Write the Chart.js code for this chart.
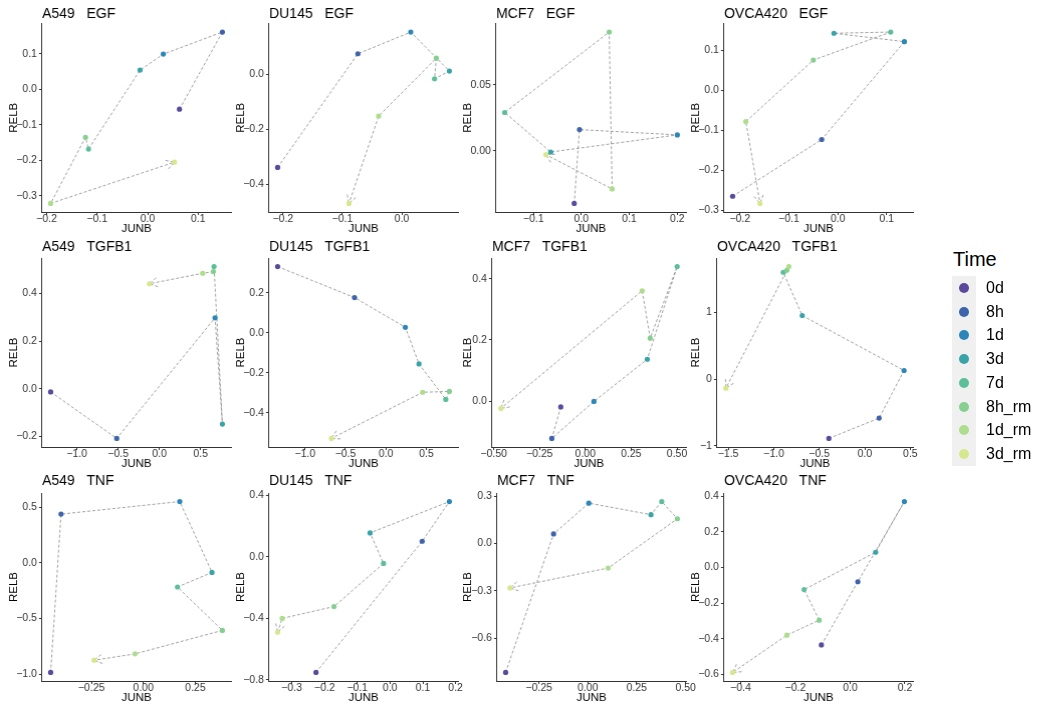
<!DOCTYPE html>
<html>
<head>
<meta charset="utf-8">
<script src="https://cdn.jsdelivr.net/npm/chart.js@4.4.1/dist/chart.umd.min.js"></script>
<style>
  body { margin: 0; background: #fff; width: 1038px; height: 706px; overflow: hidden; position: relative;
         font-family: "Liberation Sans", Arial, sans-serif; }
  .panel { position: absolute; }
  .leg { position: absolute; color: #000; white-space: nowrap; }
</style>
</head>
<body>
<script>
// time points and their colours
const times = ['0d', '8h', '1d', '3d', '7d', '8h_rm', '1d_rm', '3d_rm'];
const timeColors = ['#5b4a9c', '#3e63ab', '#2c86b8', '#3aa3a8', '#5dbf9a', '#87cf90', '#aedd8d', '#d6e88e'];

const cellLines = ['A549', 'DU145', 'MCF7', 'OVCA420'];
const treatments = ['EGF', 'TGFB1', 'TNF'];

// one row per panel (treatment-major, cell line across), values in time order
const junb = [
  [0.063, 0.148, 0.031, -0.015, -0.117, -0.123, -0.192, 0.053],
  [-0.209, -0.074, 0.015, 0.080, 0.055, 0.058, -0.039, -0.089],
  [-0.015, -0.004, 0.200, -0.064, -0.160, 0.058, 0.064, -0.074],
  [-0.215, -0.033, 0.136, -0.008, 0.108, -0.050, -0.188, -0.159],
  [-1.318, -0.517, 0.675, 0.764, 0.663, 0.655, 0.525, -0.121],
  [-1.339, -0.388, 0.240, 0.409, 0.740, 0.785, 0.455, -0.674],
  [-0.134, -0.183, 0.047, 0.338, 0.501, 0.354, 0.310, -0.461],
  [-0.395, 0.157, 0.431, -0.687, -0.896, -0.856, -0.834, -1.525],
  [-0.446, -0.396, 0.175, 0.330, 0.164, 0.380, -0.040, -0.237],
  [-0.226, 0.098, 0.181, -0.061, -0.020, -0.171, -0.329, -0.343],
  [-0.420, -0.175, 0.005, 0.323, 0.378, 0.458, 0.104, -0.398],
  [-0.105, 0.028, 0.198, 0.093, -0.168, -0.113, -0.231, -0.429]
];
const relb = [
  [-0.056, 0.161, 0.099, 0.054, -0.168, -0.135, -0.321, -0.205],
  [-0.339, 0.075, 0.154, 0.012, -0.016, 0.059, -0.152, -0.470],
  [-0.040, 0.016, 0.012, -0.001, 0.029, 0.090, -0.029, -0.003],
  [-0.265, -0.123, 0.122, 0.143, 0.146, 0.076, -0.078, -0.283],
  [-0.013, -0.208, 0.298, -0.148, 0.513, 0.492, 0.485, 0.441],
  [0.332, 0.177, 0.028, -0.155, -0.333, -0.293, -0.297, -0.528],
  [-0.019, -0.122, -0.001, 0.137, 0.440, 0.206, 0.361, -0.024],
  [-0.890, -0.585, 0.130, 0.955, 1.605, 1.635, 1.690, -0.135],
  [-0.985, 0.438, 0.551, -0.086, -0.217, -0.607, -0.818, -0.875],
  [-0.751, 0.101, 0.359, 0.155, -0.043, -0.323, -0.400, -0.490],
  [-0.816, 0.061, 0.256, 0.183, 0.266, 0.157, -0.155, -0.281],
  [-0.434, -0.080, 0.369, 0.085, -0.124, -0.295, -0.379, -0.588]
];

// tick labels per panel
const xTickLabels = [
  ['−0.2', '−0.1', '0.0', '0.1'],
  ['−0.2', '−0.1', '0.0'],
  ['−0.1', '0.0', '0.1', '0.2'],
  ['−0.2', '−0.1', '0.0', '0.1'],
  ['−1.0', '−0.5', '0.0', '0.5'],
  ['−1.0', '−0.5', '0.0', '0.5'],
  ['−0.50', '−0.25', '0.00', '0.25', '0.50'],
  ['−1.5', '−1.0', '−0.5', '0.0', '0.5'],
  ['−0.50', '−0.25', '0.00', '0.25'],
  ['−0.3', '−0.2', '−0.1', '0.0', '0.1', '0.2'],
  ['−0.25', '0.00', '0.25', '0.50'],
  ['−0.4', '−0.2', '0.0', '0.2']
];
const yTickLabels = [
  ['−0.3', '−0.2', '−0.1', '0.0', '0.1'],
  ['−0.4', '−0.2', '0.0'],
  ['0.00', '0.05'],
  ['−0.3', '−0.2', '−0.1', '0.0', '0.1'],
  ['−0.2', '0.0', '0.2', '0.4'],
  ['−0.4', '−0.2', '0.0', '0.2'],
  ['0.0', '0.2', '0.4'],
  ['−1', '0', '1'],
  ['−1.0', '−0.5', '0.0', '0.5'],
  ['−0.8', '−0.4', '0.0', '0.4'],
  ['−0.6', '−0.3', '0.0', '0.3'],
  ['−0.6', '−0.4', '−0.2', '0.0', '0.2', '0.4']
];

// page layout of the plot areas
const plotLefts = [[42, 269, 496, 724], [42, 269, 492, 717], [42, 269, 497, 724]];
const plotRights = [231, 458, 686, 913];
const rowTops = [23, 258, 493];
const rowBottoms = [212, 447, 681];
const yTitleX = [14, 241, 468, 696];
const titleY = [13.5, 247, 481];

const FONT = '"Liberation Sans", Arial, sans-serif';
const LINE = '#8a8a8a';
const PAD_R = 16;

const num = s => parseFloat(s.replace('−', '-'));

const panelDecor = {
  id: 'panelDecor',
  beforeDatasetsDraw(chart, args, opts) {
    // open arrow head on the last path segment
    const pts = chart.getDatasetMeta(1).data;
    const a = pts[pts.length - 2], b = pts[pts.length - 1];
    const ang = Math.atan2(b.y - a.y, b.x - a.x);
    const len = 9, spread = Math.PI / 6;
    const ctx = chart.ctx;
    ctx.save();
    ctx.strokeStyle = LINE;
    ctx.lineWidth = 0.8;
    ctx.setLineDash([3, 2]);
    ctx.beginPath();
    ctx.moveTo(b.x - len * Math.cos(ang - spread), b.y - len * Math.sin(ang - spread));
    ctx.lineTo(b.x, b.y);
    ctx.lineTo(b.x - len * Math.cos(ang + spread), b.y - len * Math.sin(ang + spread));
    ctx.stroke();
    ctx.restore();
  },
  afterDraw(chart, args, opts) {
    const ctx = chart.ctx;
    ctx.save();
    ctx.font = '14px ' + FONT;
    ctx.fillStyle = '#000';
    ctx.textBaseline = 'middle';
    ctx.textAlign = 'left';
    ctx.fillText(opts.title, chart.chartArea.left, opts.titleY);
    ctx.restore();
  }
};

function axisOpts(vals, labels, which, extra) {
  const min = Math.min(...vals), max = Math.max(...vals);
  const pad = (max - min) * 0.05;
  const tickVals = labels.map(num);
  const tol = (max - min) * 0.01;
  return Object.assign({
    type: 'linear',
    min: min - pad,
    max: max + pad,
    afterBuildTicks: s => {
      s.ticks = tickVals.filter(v => v >= s.min - tol && v <= s.max + tol).map(v => ({ value: v }));
    },
    ticks: {
      autoSkip: false, maxRotation: 0,
      font: { family: FONT, size: 10.5 }, color: '#333',
      padding: which === 'x' ? -2 : 2,
      callback: v => labels[tickVals.indexOf(v)]
    },
    grid: { drawOnChartArea: false, drawTicks: true, tickLength: 3, color: '#333', tickWidth: 1 },
    border: { display: true, color: '#333', width: 1 },
    title: { display: true, text: which === 'x' ? 'JUNB' : 'RELB', color: '#000',
             font: { family: FONT, size: 11.5 }, padding: 0 }
  }, extra);
}

treatments.forEach((tr, r) => {
  cellLines.forEach((cl, c) => {
    const i = r * cellLines.length + c;
    const left = plotLefts[r][c], right = plotRights[c];
    const top = rowTops[r], bottom = rowBottoms[r];
    const cvLeft = yTitleX[c] - 6.9;
    const cvTop = titleY[r] - 12;
    const w = right - cvLeft + PAD_R;
    const h = bottom - cvTop + 24;

    const div = document.createElement('div');
    div.className = 'panel';
    div.style.left = cvLeft + 'px';
    div.style.top = cvTop + 'px';
    const cv = document.createElement('canvas');
    cv.width = w; cv.height = h;
    cv.style.width = w + 'px'; cv.style.height = h + 'px';
    div.appendChild(cv);
    document.body.appendChild(div);

    const pts = junb[i].map((x, k) => ({ x, y: relb[i][k] }));
    new Chart(cv, {
      type: 'scatter',
      data: {
        datasets: [
          { data: pts, pointRadius: 2.6, pointHoverRadius: 2.6, pointBorderWidth: 0,
            pointBackgroundColor: timeColors, showLine: false },
          { data: pts, showLine: true, pointRadius: 0, pointHoverRadius: 0, borderColor: LINE,
            borderWidth: 0.8, borderDash: [3, 2], tension: 0, fill: false }
        ]
      },
      options: {
        responsive: false, animation: false, devicePixelRatio: 1, events: [],
        layout: { padding: { top: top - cvTop, right: PAD_R, left: 0, bottom: 0 } },
        plugins: {
          legend: { display: false }, tooltip: { enabled: false },
          panelDecor: { title: cl + '   ' + tr, titleY: titleY[r] - cvTop }
        },
        scales: {
          x: axisOpts(junb[i], xTickLabels[i], 'x', { position: 'bottom', afterFit: s => { s.height = 24; } }),
          y: axisOpts(relb[i], yTickLabels[i], 'y', { position: 'left', afterFit: s => { s.width = left - cvLeft; } })
        }
      },
      plugins: [panelDecor]
    });
  });
});

// legend
function legEl(html, css) {
  const d = document.createElement('div');
  d.className = 'leg';
  d.innerHTML = html;
  Object.assign(d.style, css);
  document.body.appendChild(d);
  return d;
}
legEl('Time', { left: '953px', top: '247px', fontSize: '20px', lineHeight: '24px' });
times.forEach((t, k) => {
  const cy = 288 + k * 23.7;
  legEl('', { left: '952px', top: (cy - 11.85) + 'px', width: '24px', height: '23.7px', background: '#f0f0f0' });
  legEl('', { left: '959px', top: (cy - 5) + 'px', width: '10px', height: '10px', borderRadius: '50%',
              background: timeColors[k] });
  legEl(t, { left: '986px', top: (cy - 10) + 'px', fontSize: '16px', lineHeight: '20px' });
});
</script>
</body>
</html>
